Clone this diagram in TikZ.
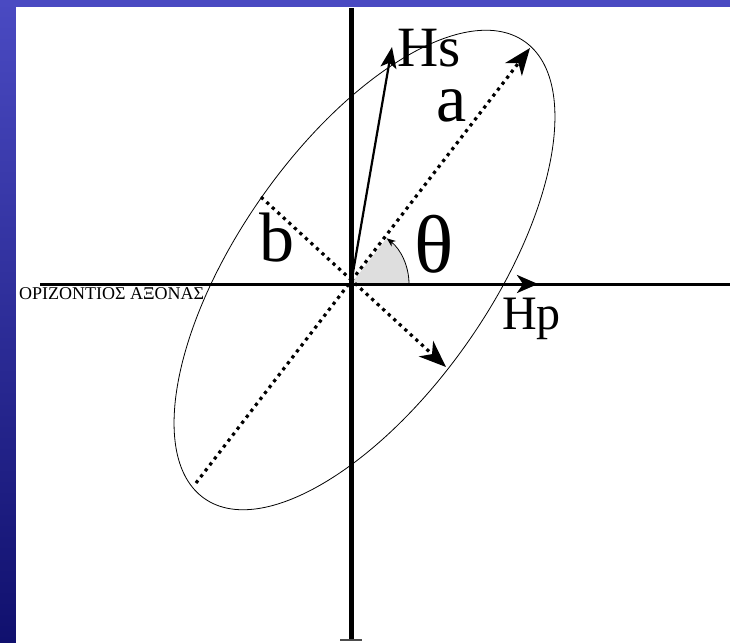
\documentclass[tikz,border=0pt]{standalone}
\usepackage{fontspec}
\setmainfont{Liberation Serif}
\usepackage{tikz}
\usetikzlibrary{arrows.meta,positioning,calc}
\definecolor{SlideBlue}{HTML}{4A4AC2}
\definecolor{SlideNavy}{HTML}{10106E}
\definecolor{WedgeGrey}{HTML}{DEDEDE}

\begin{document}
\begin{tikzpicture}[
    x=1pt,y=1pt,
    axis/.style={line width=3pt,black},
    vaxis/.style={line width=5pt,black},
    semiaxis/.style={line width=3.2pt,dash pattern=on 3.2pt off 4.3pt,-{Stealth[length=27pt,width=21pt,inset=8pt]}},
    field/.style={line width=2.2pt,-{Stealth[length=21pt,width=16pt,inset=5pt]}},
    lbl/.style={inner sep=0pt,anchor=base west}
  ]
    % slide frame
    \useasboundingbox (-351,-358) rectangle (379,284);
    \fill[white] (-351,-358) rectangle (379,284);
    \shade[top color=SlideBlue,bottom color=SlideNavy] (-351,-358) rectangle (-335,284);
    \fill[SlideBlue] (-351,277) rectangle (379,284);

    \coordinate (O) at (0,0);
    \coordinate (west) at (-311,0);
    \coordinate (east) at (379,0);
    \coordinate (north) at (0,276);
    \coordinate (south) at (0,-356);
    \coordinate (tickL) at (-11,-356);
    \coordinate (tickR) at (11,-356);
    \coordinate (HpTip) at (187,0);
    \coordinate (HsTip) at (41,237);
    \coordinate (aTip) at (179,236);
    \coordinate (aEnd) at (-155,-199);
    \coordinate (bTip) at (95,-83);
    \coordinate (bEnd) at (-90,87);

    % angle theta
    \fill[WedgeGrey] (O) -- (58,0) arc[start angle=0,end angle=52,radius=58pt] -- cycle;
    \draw[line width=0.8pt,-{Stealth[length=9pt,width=7pt]}] (58,0) arc[start angle=0,end angle=52,radius=58pt];

    \draw[line width=0.8pt,rotate around={55:(13.5,14)}] (13.5,14) ellipse[x radius=279pt,y radius=126pt];

    % axes
    \draw[axis] (west) -- (east);
    \draw[axis,-{Stealth[length=21pt,width=18pt,inset=6pt]}] (O) -- (HpTip);
    \draw[vaxis] (north) -- (south);
    \draw[line width=1.5pt,black!70] (tickL) -- (tickR);

    \draw[semiaxis] (aEnd) -- (aTip);
    \draw[semiaxis] (bEnd) -- (bTip);
    \draw[field] (O) -- (HsTip);

    \node[lbl,font=\fontsize{57}{57}\selectfont] (Hs) at (46,217) {Hs};
    \node[lbl,text height=32pt,font=\fontsize{68}{68}\selectfont] (a) at (85,162) {a};
    \node[lbl,font=\fontsize{70}{70}\selectfont] (b) at (-92,22) {b};
    \node[lbl,anchor=base,font=\fontsize{82}{82}\selectfont] (theta) at (83.5,12) {θ};
    \node[lbl,font=\fontsize{48}{48}\selectfont] (Hp) at (151,-45) {Hp};
    \node[lbl,font=\fontsize{18}{18}\selectfont] (axisname) at (-332,-16) {ΟΡΙΖΟΝΤΙΟΣ ΑΞΟΝΑΣ};
  \end{tikzpicture}
\end{document}
